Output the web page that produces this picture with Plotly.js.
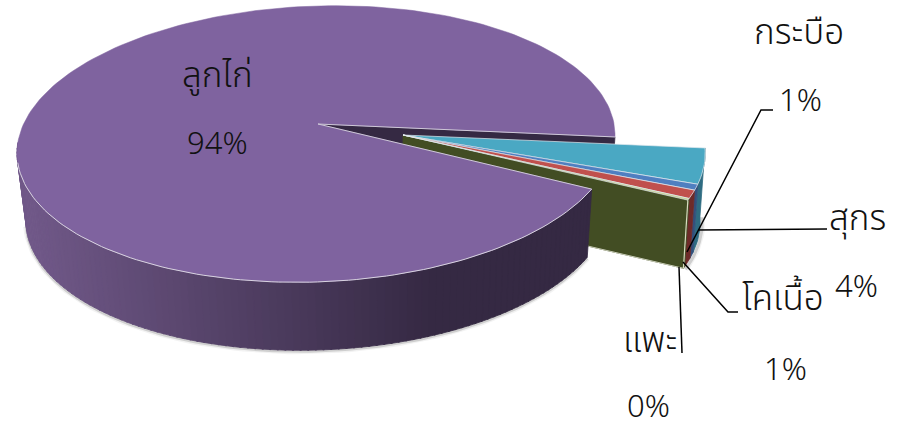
<!DOCTYPE html>
<html>
<head>
<meta charset="utf-8">
<script src="https://cdn.plot.ly/plotly-3.0.1.min.js"></script>
<style>html,body{margin:0;padding:0;background:#fff}#chart{width:897px;height:426px}</style>
</head>
<body>
<div id="chart"></div>
<script>
// DATA
const categories = ['สุกร', 'กระบือ', 'โคเนื้อ', 'แพะ', 'ลูกไก่'];
const values = [4.2, 0.7, 1.0, 0.2, 93.9];
const percentLabels = ['4%', '1%', '1%', '0%', '94%'];

// STYLE
const topColors = ['#4aa8c3', '#4f7fc0', '#c0504d', '#c5d08f', '#7f639f'];
const wallColors = ['#2f6c82', '#33507c', '#6e2b29', '#424d23', '#352943'];
const cutColor = '#424d23';
const thaiFont = '"Noto Sans Thai", "Noto Sans", "DejaVu Sans", sans-serif';
const numFont = '"Noto Sans", "Liberation Sans", Arial, sans-serif';

// GEOMETRY of the projected pie (in axis units = picture pixels)
const topE = {cx: 316, cy: 144, rx: 299, ry: 138};
const botE = {cx: 318, cy: 212, rx: 292, ry: 138};
const shear = 0.03;
const startDeg = 0.8;
const smallOffset = {x: 90, y: 11, perDeg: 0.28};
const mainApexTop = {x: 318, y: 124}, mainApexBot = {x: 318, y: 192};
const smallApexTop = {x: 403, y: 135}, smallApexBot = {x: 403, y: 203};

const rad = d => d * Math.PI / 180;
const total = values.reduce((a, b) => a + b, 0);
let acc = startDeg;
const spans = values.map(v => { const s = acc; acc += v / total * 360; return [s, acc]; });

function arc(e, a, b, off) {
  const xs = [], ys = [], n = Math.max(2, Math.ceil(Math.abs(b - a) / 1.5));
  for (let i = 0; i <= n; i++) {
    const d = a + (b - a) * i / n, t = rad(d);
    const ex = e.rx * Math.cos(t), ey = e.ry * Math.sin(t) - shear * ex;
    xs.push(e.cx + ex + (off ? off.x + off.perDeg * (d - startDeg) : 0));
    ys.push(e.cy + ey + (off ? off.y : 0));
  }
  return {x: xs, y: ys};
}
const traces = [];
function poly(x, y, fill, line, w) {
  traces.push({type: 'scatter', mode: 'lines', x: x.concat(x[0]), y: y.concat(y[0]), fill: 'toself',
    fillcolor: fill, line: {color: line || fill, width: w === undefined ? 0.8 : w}, hoverinfo: 'skip', showlegend: false});
}
function stroke(x, y, color, w) {
  traces.push({type: 'scatter', mode: 'lines', x, y, line: {color, width: w}, hoverinfo: 'skip', showlegend: false});
}
function wall(a, b, off, color) {
  const t = arc(topE, a, b, off), u = arc(botE, a, b, off);
  poly(t.x.concat(u.x.slice().reverse()), t.y.concat(u.y.slice().reverse()), color);
}
function mix(c1, c2, f) {
  return 'rgb(' + c1.map((v, i) => Math.round(v + (c2[i] - v) * f)).join(',') + ')';
}

const mainIdx = values.length - 1;
const [mainA, mainB] = spans[mainIdx];
const smallEnd = spans[mainIdx - 1][1];

// shadows below the pie and the pulled-out slices
[[6, 'rgba(0,0,0,0.05)'], [3, 'rgba(0,0,0,0.14)']].forEach(([w, c]) => {
  const s = arc(botE, mainA, 178); stroke(s.x, s.y.map(v => v + 1), c, w);
  const q = arc(botE, startDeg, smallEnd, smallOffset);
  stroke(q.x.map(v => v + 2), q.y.map(v => v + 1), c, w);
});

// cut wall of the main slice, behind the pulled-out slices
const m0 = arc(topE, startDeg, startDeg), m1 = arc(botE, startDeg, startDeg);
poly([mainApexTop.x, m0.x[0], m1.x[0], mainApexBot.x], [mainApexTop.y, m0.y[0], m1.y[0], mainApexBot.y], wallColors[4]);

// pulled-out slices: rim walls
for (let i = 0; i < mainIdx; i++) wall(spans[i][0], spans[i][1], smallOffset, wallColors[i]);
// pulled-out slices: cut wall
const e0 = arc(topE, smallEnd, smallEnd, smallOffset), e1 = arc(botE, smallEnd, smallEnd, smallOffset);
poly([smallApexTop.x, e0.x[0], e1.x[0], smallApexBot.x], [smallApexTop.y, e0.y[0], e1.y[0], smallApexBot.y], cutColor);
stroke([e0.x[0], e1.x[0]], [e0.y[0], e1.y[0]], '#d7dcc0', 1.2);
stroke([e1.x[0], smallApexBot.x], [e1.y[0], smallApexBot.y], '#c9cdb8', 1);
// pulled-out slices: tops
for (let i = 0; i < mainIdx; i++) {
  const r = arc(topE, spans[i][0], spans[i][1], smallOffset);
  poly([smallApexTop.x].concat(r.x), [smallApexTop.y].concat(r.y), topColors[i], '#dfe8ee', 0.7);
}

// main slice: rim wall with a left-to-right shade
const light = [112, 88, 136], dark = [53, 41, 67];
const step = 1.5;
for (let a = mainA; a < 184; a += step) {
  const b = Math.min(a + step, 184) + 0.3;
  const xm = topE.cx + topE.rx * Math.cos(rad(a + step / 2));
  const f = Math.min(1, Math.max(0, (xm - 30) / 400));
  wall(a, b, null, mix(light, dark, f));
}
// main slice: top
const mr = arc(topE, mainA, mainB);
poly([mainApexTop.x].concat(mr.x), [mainApexTop.y].concat(mr.y), topColors[4], topColors[4], 0.5);
const lowArc = arc(topE, mainA, 176);
stroke(lowArc.x, lowArc.y, '#d8d3e0', 1);
stroke([mr.x[0], mainApexTop.x, mr.x[mr.x.length - 1]], [mr.y[0], mainApexTop.y, mr.y[mr.y.length - 1]], '#cfc9d8', 1);

// leader lines
const leaders = [
  [[773, 110], [761, 110], [687, 252]],
  [[827, 229], [698, 230]],
  [[738, 312], [728, 312], [683, 262]],
  [[682, 353], [679, 267]]
];
const shapes = leaders.map(p => ({
  type: 'path', xref: 'x', yref: 'y',
  path: 'M' + p.map(q => q.join(' ')).join(' L'),
  line: {color: '#000', width: 1.5}
}));

// labels
const labelPos = {
  'สุกร': [[857, 219], [856, 285]],
  'กระบือ': [[799, 33], [800, 99]],
  'โคเนื้อ': [[783, 299], [785, 368]],
  'แพะ': [[650, 341], [648, 405]],
  'ลูกไก่': [[217, 76], [217, 142]]
};
const annotations = [];
categories.forEach((c, i) => {
  const [a, b] = labelPos[c];
  annotations.push({x: a[0], y: a[1], xref: 'x', yref: 'y', text: c, showarrow: false, xanchor: 'center', yanchor: 'middle',
    font: {family: thaiFont, size: 35, weight: 300, color: '#111'}});
  annotations.push({x: b[0], y: b[1], xref: 'x', yref: 'y', text: percentLabels[i], showarrow: false, xanchor: 'center', yanchor: 'middle',
    font: {family: numFont, size: 31, weight: 300, color: '#111'}});
});

Plotly.newPlot('chart', traces, {
  width: 897, height: 426, margin: {l: 0, r: 0, t: 0, b: 0},
  paper_bgcolor: '#fff', plot_bgcolor: '#fff', showlegend: false,
  xaxis: {range: [0, 897], visible: false, fixedrange: true},
  yaxis: {range: [426, 0], visible: false, fixedrange: true},
  shapes, annotations
}, {displayModeBar: false, staticPlot: true});
</script>
</body>
</html>
